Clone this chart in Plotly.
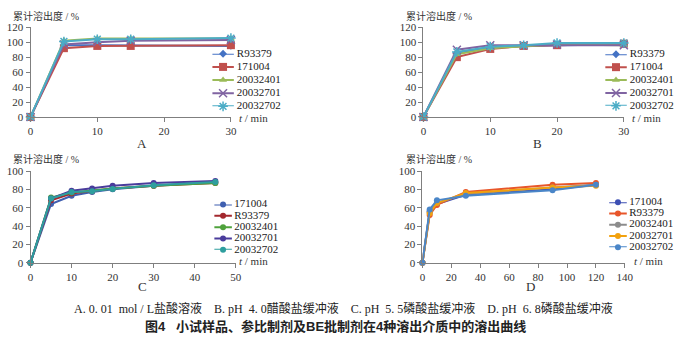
import plotly.graph_objects as go

W, H = 680, 342

# ---------------- data ----------------
t_A = [0, 5, 10, 15, 30]
names_AB = ["R93379", "171004", "20032401", "20032701", "20032702"]
A_R93379 = [0, 96, 96, 96, 95]
A_171004 = [0, 92, 95, 95, 96]
A_20032401 = [0, 102, 105, 105, 105]
A_20032701 = [0, 97, 100, 102, 103]
A_20032702 = [0, 101, 104, 104, 105.5]

t_B = [0, 5, 10, 15, 20, 30]
B_R93379 = [0, 85, 93, 95, 96, 97]
B_171004 = [0, 80, 91, 95, 96, 98]
B_20032401 = [0, 84, 92, 95, 97, 96]
B_20032701 = [0, 90, 96, 96, 97, 96]
B_20032702 = [0, 87, 94, 96, 99, 99]

t_C = [0, 5, 10, 15, 20, 30, 45]
names_CD = ["171004", "R93379", "20032401", "20032701", "20032702"]
C_171004 = [0, 64, 73, 77, 80, 84, 88]
C_R93379 = [0, 68, 75.5, 78, 81, 84, 87]
C_20032401 = [0, 71, 76.5, 79, 81, 84, 87]
C_20032701 = [0, 70, 78.5, 81, 84, 87, 89]
C_20032702 = [0, 70, 77, 78, 80.5, 84.5, 88]

t_D = [0, 5, 10, 30, 90, 120]
D_171004 = [0, 56, 64, 74, 80, 85]
D_R93379 = [0, 52, 63, 77, 85, 87]
D_20032401 = [0, 55, 65, 75, 82, 85]
D_20032701 = [0, 54, 65, 76, 82, 84]
D_20032702 = [0, 58, 68, 73, 79, 85]

panel_labels = ["A", "B", "C", "D"]
y_title = "累计溶出度 / %"
x_title = "<i>t</i> / min"
caption1 = "A. 0. 01  mol / L盐酸溶液    B. pH  4. 0醋酸盐缓冲液    C. pH  5. 5磷酸盐缓冲液    D. pH  6. 8磷酸盐缓冲液"
caption2 = "图4   小试样品、参比制剂及BE批制剂在4种溶出介质中的溶出曲线"

# ---------------- styles ----------------
colors_AB = ["#4472C4", "#C0504D", "#9BBB59", "#8064A2", "#4BACC6"]
symbols_AB = ["diamond", "square", "triangle-up", "x-thin", "asterisk"]
sizes_AB = [6, 8, 7, 8, 8]
colors_C = ["#3F5FB0", "#A3282E", "#4FA23C", "#4A3C9C", "#2E9E9E"]
colors_D = ["#3D4FB3", "#E8562A", "#8C8C8C", "#F2A10E", "#4A86C8"]

SERIF = "Liberation Serif, Times New Roman, serif"
CJK = "Liberation Serif, Noto Sans CJK SC"
LEG_EXT = 1.14  # legend axis range end (text anchor just right of the key line)


def px(x):
    return x / W


def py(y):
    return 1 - y / H


fig = go.Figure()

panels = [
    dict(t=t_A, ys=[A_R93379, A_171004, A_20032401, A_20032701, A_20032702], names=names_AB,
         colors=colors_AB, symbols=symbols_AB, sizes=sizes_AB,
         xd=(28, 232), yd=(22, 115), xr=30, yr=120, xdt=10,
         leg=(213, 235, 49.5, 104), ytitle=(8, 10), xtitle=(238, 116), lab=(142, 143)),
    dict(t=t_B, ys=[B_R93379, B_171004, B_20032401, B_20032701, B_20032702], names=names_AB,
         colors=colors_AB, symbols=symbols_AB, sizes=sizes_AB,
         xd=(428, 632), yd=(22, 115), xr=30, yr=120, xdt=10,
         leg=(613, 635, 50, 103.5), ytitle=(408, 10), xtitle=(638, 116), lab=(544, 143)),
    dict(t=t_C, ys=[C_171004, C_R93379, C_20032401, C_20032701, C_20032702], names=names_CD,
         colors=colors_C, symbols=["circle"] * 5, sizes=[6] * 5,
         xd=(28, 237), yd=(171, 266), xr=50, yr=100, xdt=10,
         leg=(215, 233, 205.7, 252.7), ytitle=(8, 159), xtitle=(238, 264), lab=(142, 291)),
    dict(t=t_D, ys=[D_171004, D_R93379, D_20032401, D_20032701, D_20032702], names=names_CD,
         colors=colors_D, symbols=["circle"] * 5, sizes=[6] * 5,
         xd=(427, 633), yd=(171, 266), xr=140, yr=100, xdt=20,
         leg=(617, 635, 203.3, 250), ytitle=(408, 159), xtitle=(640, 264), lab=(537, 291)),
]

annotations = []
layout_axes = {}
for i, p in enumerate(panels):
    n = i + 1
    xa = "x" if n == 1 else f"x{n}"
    ya = "y" if n == 1 else f"y{n}"
    for k, (yv, nm) in enumerate(zip(p["ys"], p["names"])):
        c = p["colors"][k]
        sym = p["symbols"][k]
        fig.add_trace(go.Scatter(
            x=p["t"], y=yv, name=nm, mode="lines+markers", xaxis=xa, yaxis=ya,
            line=dict(color=c, width=2), cliponaxis=False, showlegend=False,
            marker=dict(symbol=sym, size=p["sizes"][k], color=c,
                        line=dict(color=c, width=1.5 if ("thin" in sym or sym == "asterisk") else 0))))
    axstyle = dict(showgrid=False, zeroline=False, showline=True, linecolor="#7f7f7f", linewidth=1,
                   ticks="outside", ticklen=4, tickcolor="#7f7f7f",
                   tickfont=dict(family=SERIF, size=11, color="#333"))
    layout_axes["xaxis" if n == 1 else f"xaxis{n}"] = dict(
        domain=[px(p["xd"][0]), px(p["xd"][1])], range=[0, p["xr"]], dtick=p["xdt"],
        anchor=ya, **axstyle)
    layout_axes["yaxis" if n == 1 else f"yaxis{n}"] = dict(
        domain=[py(p["yd"][1]), py(p["yd"][0])], range=[0, p["yr"]], dtick=20,
        anchor=xa, **axstyle)

    # custom compact legend on its own hidden axes
    m = n + 4
    lx, ly = f"x{m}", f"y{m}"
    x0, x1, y0, y1 = p["leg"]
    x1e = x0 + (x1 - x0) * LEG_EXT
    layout_axes[f"xaxis{m}"] = dict(domain=[px(x0), px(x1e)], range=[0, LEG_EXT], visible=False,
                                    anchor=ly, fixedrange=True)
    layout_axes[f"yaxis{m}"] = dict(domain=[py(y1), py(y0)], range=[0, len(p["names"]) - 1],
                                    visible=False, anchor=lx, fixedrange=True)
    nn = len(p["names"])
    for k, nm in enumerate(p["names"]):
        c = p["colors"][k]
        sym = p["symbols"][k]
        row = nn - 1 - k
        fig.add_trace(go.Scatter(x=[0, 1], y=[row, row], mode="lines", xaxis=lx, yaxis=ly,
                                 line=dict(color=c, width=2), showlegend=False, hoverinfo="skip",
                                 cliponaxis=False))
        fig.add_trace(go.Scatter(x=[0.5], y=[row], mode="markers", xaxis=lx, yaxis=ly,
                                 showlegend=False, hoverinfo="skip", cliponaxis=False,
                                 marker=dict(symbol=sym, size=p["sizes"][k], color=c,
                                             line=dict(color=c, width=1.5 if ("thin" in sym or sym == "asterisk") else 0))))
    fig.add_trace(go.Scatter(x=[LEG_EXT * 0.999] * nn, y=[nn - 1 - k for k in range(nn)], mode="text",
                             text=p["names"], textposition="middle right", xaxis=lx, yaxis=ly,
                             textfont=dict(family=SERIF, size=11, color="#222"),
                             showlegend=False, hoverinfo="skip", cliponaxis=False))

    annotations.append(dict(text=y_title, x=px(p["ytitle"][0]), y=py(p["ytitle"][1]),
                            xref="paper", yref="paper", xanchor="left", yanchor="middle",
                            showarrow=False, font=dict(family=CJK, size=10, color="#333")))
    annotations.append(dict(text=x_title, x=px(p["xtitle"][0]), y=py(p["xtitle"][1]),
                            xref="paper", yref="paper", xanchor="left", yanchor="middle",
                            showarrow=False, font=dict(family=SERIF, size=11, color="#333")))
    annotations.append(dict(text=panel_labels[i], x=px(p["lab"][0]), y=py(p["lab"][1]),
                            xref="paper", yref="paper", xanchor="center", yanchor="middle",
                            showarrow=False, font=dict(family=SERIF, size=13, color="#333")))

annotations.append(dict(text=caption1, x=px(347), y=py(313), xref="paper", yref="paper",
                        xanchor="center", yanchor="middle", showarrow=False,
                        font=dict(family=CJK, size=12, color="#222")))
annotations.append(dict(text="<b>" + caption2 + "</b>", x=px(338), y=py(332), xref="paper", yref="paper",
                        xanchor="center", yanchor="middle", showarrow=False,
                        font=dict(family="Liberation Sans, Noto Sans CJK SC", size=13, color="#222")))

fig.update_layout(width=W, height=H, margin=dict(l=0, r=0, t=0, b=0),
                  paper_bgcolor="white", plot_bgcolor="white", showlegend=False,
                  annotations=annotations, **layout_axes)

fig.write_html("out.html")
